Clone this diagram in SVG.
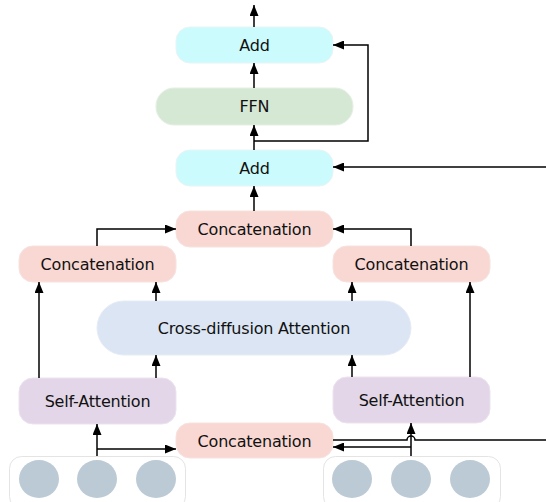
<svg xmlns="http://www.w3.org/2000/svg" width="546" height="502" viewBox="0 0 546 502">
<defs>
<marker id="ah" viewBox="0 0 11 9" refX="11" refY="4.5" markerWidth="11" markerHeight="9" markerUnits="userSpaceOnUse" orient="auto">
<path d="M0,0 L11,4.5 L0,9 Z" fill="#000"/>
</marker>
</defs>
<style>
text{font-family:"DejaVu Sans",sans-serif;font-size:16px;letter-spacing:-0.2px;fill:#111;text-anchor:middle;dominant-baseline:central}
.add{fill:#ccfbfd;stroke:#e8f4f6;stroke-width:1}
.ffn{fill:#d5e8d4;stroke:#e6efe5;stroke-width:1}
.cat{fill:#f9d8d3;stroke:#f6e2de;stroke-width:1}
.cda{fill:#dbe5f4;stroke:#e6ecf6;stroke-width:1}
.sa{fill:#e2d6e8;stroke:#ece3ef;stroke-width:1}
.grp{fill:#fff;stroke:#e4e4e4;stroke-width:1}
.dot{fill:#bbcad4}
.c{fill:none;stroke:#000;stroke-width:1.5}
.ca{fill:none;stroke:#000;stroke-width:1.5;marker-end:url(#ah)}
</style>
<g id="inputs-left"><rect class="grp" x="9.5" y="456.5" width="176" height="52" rx="12"/><ellipse class="dot" cx="39" cy="479" rx="20" ry="19"/><ellipse class="dot" cx="97" cy="479" rx="20" ry="19"/><ellipse class="dot" cx="156" cy="479" rx="20" ry="19"/></g>
<g id="inputs-right"><rect class="grp" x="323.5" y="456.5" width="177" height="52" rx="12"/><ellipse class="dot" cx="352" cy="479" rx="20" ry="19"/><ellipse class="dot" cx="411" cy="479" rx="20" ry="19"/><ellipse class="dot" cx="470" cy="479" rx="20" ry="19"/></g>
<g id="add-top"><rect class="add" x="176" y="27" width="157" height="36" rx="14"/><text x="254.5" y="45">Add</text></g>
<g id="ffn"><rect class="ffn" x="156" y="88" width="197" height="37" rx="18"/><text x="254.5" y="106.5">FFN</text></g>
<g id="add-bottom"><rect class="add" x="176" y="150" width="157" height="36" rx="14"/><text x="254.5" y="168">Add</text></g>
<g id="concat-top"><rect class="cat" x="176" y="211" width="157" height="36" rx="14"/><text x="254.5" y="229">Concatenation</text></g>
<g id="concat-left"><rect class="cat" x="19" y="246" width="157" height="36" rx="14"/><text x="97.5" y="264">Concatenation</text></g>
<g id="concat-right"><rect class="cat" x="333" y="246" width="157" height="36" rx="14"/><text x="411.5" y="264">Concatenation</text></g>
<g id="cross-diffusion"><rect class="cda" x="97" y="301" width="314" height="54" rx="27"/><text x="254" y="328">Cross-diffusion Attention</text></g>
<g id="self-attn-left"><rect class="sa" x="19" y="378" width="157" height="46" rx="14"/><text x="97.5" y="401">Self-Attention</text></g>
<g id="self-attn-right"><rect class="sa" x="333" y="377" width="157" height="46" rx="14"/><text x="411.5" y="400">Self-Attention</text></g>
<g id="concat-bottom"><rect class="cat" x="176" y="423" width="157" height="35" rx="14"/><text x="254.5" y="441">Concatenation</text></g>
<g id="connectors">
<path class="ca" d="M254,27 V5"/>
<path class="ca" d="M254,88 V63"/>
<path class="ca" d="M254,150 V125"/>
<path class="ca" d="M254,141 H368 V45 H333"/>
<path class="ca" d="M546,167 H333"/>
<path class="ca" d="M254,211 V186"/>
<path class="ca" d="M97,246 V229 H176"/>
<path class="ca" d="M411,246 V229 H333"/>
<path class="ca" d="M156,301 V282"/>
<path class="ca" d="M352,301 V282"/>
<path class="ca" d="M39,378 V282"/>
<path class="ca" d="M470,377 V282"/>
<path class="ca" d="M156,378 V355"/>
<path class="ca" d="M352,377 V355"/>
<path class="ca" d="M97,456 V424"/>
<path class="ca" d="M97,449 H176"/>
<path class="ca" d="M411,456 V423"/>
<path class="ca" d="M411,447 H333"/>
<path class="c" d="M333,440 H407 A4,4 0 0 1 415,440 H546"/>
</g>
</svg>
